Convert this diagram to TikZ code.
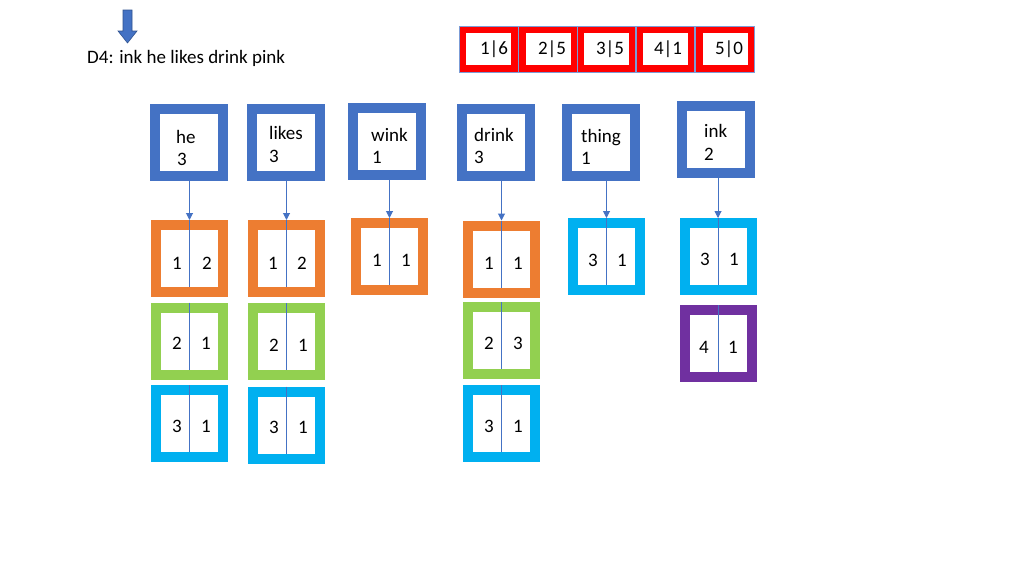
\documentclass[tikz,border=0pt]{standalone}
\usepackage{fontspec}
\setmainfont{Carlito}
\usetikzlibrary{arrows.meta}
\definecolor{wblue}{HTML}{4472C4}
\definecolor{wbluedark}{HTML}{2F528F}
\definecolor{porange}{HTML}{ED7D31}
\definecolor{pgreen}{HTML}{92D050}
\definecolor{plblue}{HTML}{00B0F0}
\definecolor{ppurple}{HTML}{7030A0}
\definecolor{pred}{HTML}{FF0000}
\begin{document}
\begin{tikzpicture}[x=1pt,y=-1pt,
  every node/.style={font=\fontsize{19}{22}\selectfont},
  wordbox/.style={draw=wblue,line width=10pt,fill=white,minimum width=68pt,minimum height=67pt,inner sep=0pt,outer sep=5pt},
  postbox/.style={line width=10pt,fill=white,minimum width=67pt,minimum height=67pt,inner sep=0pt,outer sep=5pt},
  po/.style={postbox,draw=porange},
  pg/.style={postbox,draw=pgreen},
  pb/.style={postbox,draw=plblue},
  pp/.style={postbox,draw=ppurple},
  redbox/.style={draw=pred,line width=7pt,fill=white,minimum width=52pt,minimum height=39pt,inner sep=0pt,outer sep=3.5pt},
  redline/.style={draw=wblue!70,line width=0.8pt},
  conn/.style={draw=wblue,line width=1pt},
  arr/.style={conn,-{Triangle[width=7pt,length=7pt]}},
  lbl/.style={anchor=base west,inner sep=0pt},
  num/.style={anchor=center,inner sep=0pt}
]
\useasboundingbox[fill=white] (0,0) rectangle (1024,576);

% top-left block arrow
\filldraw[fill=wblue,draw=wbluedark,line width=0.6pt] (123,10) -- (132,10) -- (132,31) -- (137,31) -- (127.5,43) -- (118,31) -- (123,31) -- cycle;
\node[lbl] (doc) at (87,63) {D4: ink he likes drink pink};

% top array
\node[redbox] (r1) at (488.5,49) {};
\node[redbox] (r2) at (548,49) {};
\node[redbox] (r3) at (606.5,49) {};
\node[redbox] (r4) at (665,49) {};
\node[redbox] (r5) at (725,49) {};
\foreach \r in {r1,r2,r3,r4,r5}{
  \draw[redline] (\r.north west) rectangle (\r.south east);
}
\node[anchor=base,inner sep=0pt] (t1) at (494,54) {1|6};
\node[anchor=base,inner sep=0pt] (t2) at (552,54) {2|5};
\node[anchor=base,inner sep=0pt] (t3) at (610,54) {3|5};
\node[anchor=base,inner sep=0pt] (t4) at (668,54) {4|1};
\node[anchor=base,inner sep=0pt] (t5) at (729,54) {5|0};

% word boxes
\node[wordbox] (he) at (189,142.5) {};
\node[wordbox] (likes) at (285.5,142.5) {};
\node[wordbox] (wink) at (386.5,141) {};
\node[wordbox] (drink) at (495.5,142.5) {};
\node[wordbox] (thing) at (600.5,142.5) {};
\node[wordbox] (ink) at (715.5,139) {};

\node[lbl] (heA) at (176,143) {he};
\node[lbl] (heB) at (177,165) {3};
\node[lbl] (likesA) at (269,139) {likes};
\node[lbl] (likesB) at (269,162) {3};
\node[lbl] (winkA) at (371,141) {wink};
\node[lbl] (winkB) at (372,163) {1};
\node[lbl] (drinkA) at (474,141) {drink};
\node[lbl] (drinkB) at (474,163) {3};
\node[lbl] (thingA) at (581,142) {thing};
\node[lbl] (thingB) at (581,164) {1};
\node[lbl] (inkA) at (704,137) {ink};
\node[lbl] (inkB) at (704,160) {2};

% postings
\node[po] (he1) at (189.5,258.5) {};
\node[pg] (he2) at (189.5,341) {};
\node[pb] (he3) at (189.5,423.5) {};
\node[po] (li1) at (286.5,258.5) {};
\node[pg] (li2) at (286.5,341.5) {};
\node[pb] (li3) at (286.5,425) {};
\node[po] (wi1) at (389.5,256.5) {};
\node[po] (dr1) at (501.5,259) {};
\node[pg] (dr2) at (501.5,340.5) {};
\node[pb] (dr3) at (501.5,423.5) {};
\node[pb] (th1) at (606.5,256.5) {};
\node[pb] (in1) at (718,256.5) {};
\node[pp] (in2) at (718,343.5) {};

% dividers inside postings
\foreach \p in {he1,he2,he3,li1,li2,li3,wi1,dr1,dr2,dr3,th1,in1,in2}{
  \draw[conn] (\p.north) -- ([yshift=10pt]\p.south);
}

% connectors word -> first posting
\draw[arr] (he.south -| he1.north) -- (he1.north);
\draw[arr] (likes.south -| li1.north) -- (li1.north);
\draw[arr] (wink.south -| wi1.north) -- (wi1.north);
\draw[arr] (drink.south -| dr1.north) -- (dr1.north);
\draw[arr] (thing.south -| th1.north) -- (th1.north);
\draw[arr] (ink.south -| in1.north) -- (in1.north);

% posting numbers
\node[num] (he1a) at (177,263) {1}; \node[num] (he1b) at (207,263) {2};
\node[num] (he2a) at (177,343) {2}; \node[num] (he2b) at (206,343) {1};
\node[num] (he3a) at (177,426) {3}; \node[num] (he3b) at (206,426) {1};
\node[num] (li1a) at (273,263) {1}; \node[num] (li1b) at (302,263) {2};
\node[num] (li2a) at (274,345) {2}; \node[num] (li2b) at (303,345) {1};
\node[num] (li3a) at (274,427) {3}; \node[num] (li3b) at (303,427) {1};
\node[num] (wi1a) at (377,260) {1}; \node[num] (wi1b) at (406,260) {1};
\node[num] (dr1a) at (489,263) {1}; \node[num] (dr1b) at (518,263) {1};
\node[num] (dr2a) at (489,343) {2}; \node[num] (dr2b) at (518,343) {3};
\node[num] (dr3a) at (489,426) {3}; \node[num] (dr3b) at (518,426) {1};
\node[num] (th1a) at (593,260) {3}; \node[num] (th1b) at (622,260) {1};
\node[num] (in1a) at (705,259) {3}; \node[num] (in1b) at (734,259) {1};
\node[num] (in2a) at (704,347) {4}; \node[num] (in2b) at (733,347) {1};
\end{tikzpicture}
\end{document}
